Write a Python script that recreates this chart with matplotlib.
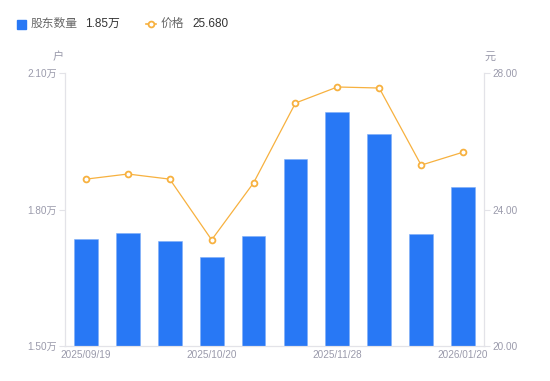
import matplotlib
matplotlib.use("Agg")
import matplotlib.pyplot as plt
import numpy as np

plt.rcParams['font.family'] = ['Liberation Sans', 'Noto Sans CJK SC', 'DejaVu Sans']

# data
dates = ["2025/09/19", "2025/09/30", "2025/10/10", "2025/10/20", "2025/10/31",
         "2025/11/10", "2025/11/28", "2025/12/10", "2025/12/31", "2026/01/20"]
holders = [1.735, 1.748, 1.731, 1.696, 1.742, 1.911, 2.014, 1.966, 1.746, 1.849]  # 万户
price = [24.89, 25.04, 24.89, 23.11, 24.78, 27.12, 27.59, 27.56, 25.30, 25.68]  # 元
shown_dates = [0, 3, 6, 9]

bar_color = "#2878F5"
line_color = "#F7B13F"
label_color = "#9A9AAB"
axis_color = "#E3E3E8"

fig = plt.figure(figsize=(5.5, 3.81), dpi=100)
ax = fig.add_axes([65 / 550, 35 / 381, 419 / 550, 273 / 381])
ax2 = ax.twinx()

x = np.arange(len(dates))
ax.bar(x, holders, width=0.57, color=bar_color, edgecolor="#7FAEF8", linewidth=0.4, zorder=2)
ax.set_xlim(-0.5, len(dates) - 0.5)
ax.set_ylim(1.5, 2.1)
ax.set_yticks([1.5, 1.8, 2.1])
ax.set_yticklabels(["1.50万", "1.80万", "2.10万"])
ax.set_xticks([x[i] for i in shown_dates])
ax.set_xticklabels([dates[i] for i in shown_dates])

ax2.plot(x, price, color=line_color, linewidth=0.9, marker="o", markersize=4.2,
         markerfacecolor="white", markeredgecolor=line_color, markeredgewidth=1.3, zorder=3)
ax2.set_ylim(20, 28)
ax2.set_yticks([20, 24, 28])
ax2.set_yticklabels(["20.00", "24.00", "28.00"])

for a in (ax, ax2):
    a.spines['top'].set_visible(False)
    for s in ('left', 'right', 'bottom'):
        a.spines[s].set_color(axis_color)
        a.spines[s].set_linewidth(0.8)
    a.tick_params(axis='y', colors=axis_color, labelcolor=label_color, labelsize=7.2,
                  length=4, width=0.8, pad=2)
ax.tick_params(axis='x', length=0, labelcolor=label_color, labelsize=7.2, pad=3)
ax2.set_zorder(ax.get_zorder() + 1)
ax2.patch.set_visible(False)

# unit labels
fig.text(58 / 550, 1 - 57 / 381, "户", color=label_color, fontsize=8, ha='center', va='center')
fig.text(490 / 550, 1 - 57 / 381, "元", color=label_color, fontsize=8, ha='center', va='center')

# legend row
ly = 1 - 24 / 381
fig.patches.append(plt.Rectangle((17 / 550, 1 - 29 / 381), 9 / 550, 9 / 381,
                                 transform=fig.transFigure, color=bar_color))
fig.text(31 / 550, ly, "股东数量", color="#666666", fontsize=8.5, va='center')
fig.text(85 / 550, ly, "1.85万", color="#333333", fontsize=8.5, va='center')
fig.lines.append(plt.Line2D([146 / 550, 156 / 550], [ly, ly], transform=fig.transFigure,
                            color=line_color, linewidth=1.2))
fig.lines.append(plt.Line2D([151 / 550], [ly], transform=fig.transFigure, color=line_color,
                            marker="o", markersize=4.2, markerfacecolor="white",
                            markeredgewidth=1.3))
fig.text(161 / 550, ly, "价格", color="#666666", fontsize=8.5, va='center')
fig.text(192 / 550, ly, "25.680", color="#333333", fontsize=8.5, va='center')

fig.savefig("out.png", dpi=100)
